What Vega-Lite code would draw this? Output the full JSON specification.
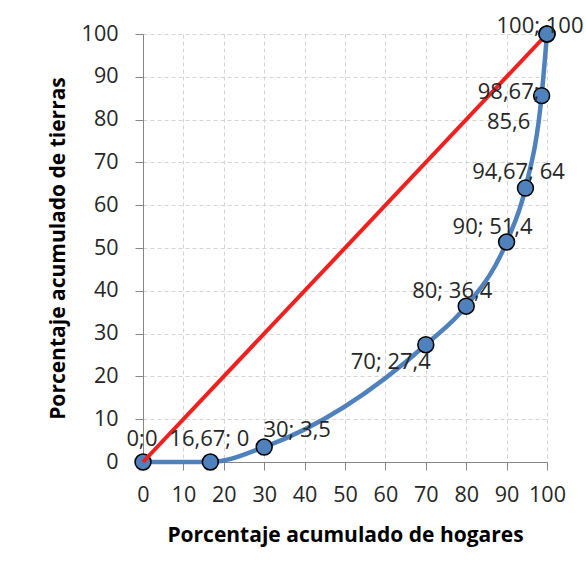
{
  "$schema": "https://vega.github.io/schema/vega-lite/v6.json",
  "width": 404,
  "height": 428,
  "autosize": {"type": "none"},
  "padding": {"left": 143, "top": 34, "right": 39, "bottom": 120},
  "background": "white",
  "config": {
    "view": {"stroke": null},
    "font": "Open Sans",
    "axis": {
      "grid": true,
      "gridColor": "#d4d4d4",
      "gridDash": [4, 3],
      "gridWidth": 1,
      "domainColor": "#868686",
      "domainWidth": 1,
      "tickColor": "#868686",
      "tickSize": 8,
      "labelFontSize": 21.5,
      "labelColor": "#262626",
      "labelFont": "Open Sans",
      "titleFont": "Open Sans",
      "titleFontSize": 21,
      "titleFontWeight": "bold",
      "titleColor": "#000000",
      "labelFlush": false,
      "labelOverlap": false
    }
  },
  "datasets": {
    "lorenz": [
      {"x": 0, "y": 0, "label": "0;0"},
      {"x": 16.67, "y": 0, "label": "16,67; 0"},
      {"x": 30, "y": 3.5, "label": "30; 3,5"},
      {"x": 70, "y": 27.4, "label": "70; 27,4"},
      {"x": 80, "y": 36.4, "label": "80; 36,4"},
      {"x": 90, "y": 51.4, "label": "90; 51,4"},
      {"x": 94.67, "y": 64, "label": "94,67; 64"},
      {"x": 98.67, "y": 85.6, "label": "98,67;\n85,6"},
      {"x": 100, "y": 100, "label": "100; 100"}
    ],
    "equality": [
      {"x": 0, "y": 0},
      {"x": 100, "y": 100}
    ]
  },
  "encoding": {
    "x": {
      "field": "x",
      "type": "quantitative",
      "scale": {"domain": [0, 100], "nice": false, "zero": false},
      "axis": {
        "values": [0, 10, 20, 30, 40, 50, 60, 70, 80, 90, 100],
        "title": "Porcentaje acumulado de hogares",
        "labelPadding": 14,
        "titleX": 202,
        "titleY": 73,
        "titleAlign": "center",
        "titleBaseline": "middle"
      }
    },
    "y": {
      "field": "y",
      "type": "quantitative",
      "scale": {"domain": [0, 100], "nice": false, "zero": false},
      "axis": {
        "values": [0, 10, 20, 30, 40, 50, 60, 70, 80, 90, 100],
        "title": "Porcentaje acumulado de tierras",
        "labelPadding": 17,
        "titleX": -85,
        "titleY": 214,
        "titleAngle": -90,
        "titleAlign": "center",
        "titleBaseline": "middle"
      }
    }
  },
  "layer": [
    {
      "data": {"name": "lorenz"},
      "mark": {"type": "line", "color": "#4f81bd", "strokeWidth": 4.5, "interpolate": "monotone"}
    },
    {
      "data": {"name": "lorenz"},
      "mark": {"type": "point", "filled": true, "fill": "#4f81bd", "stroke": "#000000", "strokeWidth": 1.5, "size": 254, "opacity": 1}
    },
    {
      "data": {"name": "equality"},
      "mark": {"type": "line", "color": "#f0201e", "strokeWidth": 4}
    },
    {
      "data": {"name": "lorenz"},
      "transform": [{"filter": "datum.x == 100"}],
      "mark": {"type": "point", "filled": true, "fill": "#4f81bd", "stroke": "#000000", "strokeWidth": 1.5, "size": 254, "opacity": 1}
    },
    {
      "data": {"name": "lorenz"},
      "transform": [{"filter": "datum.x == 0 || datum.x == 16.67"}],
      "mark": {"type": "text", "fontSize": 22, "color": "#262626", "align": "center", "baseline": "middle", "dx": -1, "dy": -23},
      "encoding": {"text": {"field": "label"}}
    },
    {
      "data": {"name": "lorenz"},
      "transform": [{"filter": "datum.x == 30"}],
      "mark": {"type": "text", "fontSize": 22, "color": "#262626", "align": "center", "baseline": "middle", "dx": 33, "dy": -17},
      "encoding": {"text": {"field": "label"}}
    },
    {
      "data": {"name": "lorenz"},
      "transform": [{"filter": "datum.x == 70"}],
      "mark": {"type": "text", "fontSize": 22, "color": "#262626", "align": "center", "baseline": "middle", "dx": -35, "dy": 17.5},
      "encoding": {"text": {"field": "label"}}
    },
    {
      "data": {"name": "lorenz"},
      "transform": [{"filter": "datum.x == 80 || datum.x == 90"}],
      "mark": {"type": "text", "fontSize": 22, "color": "#262626", "align": "center", "baseline": "middle", "dx": -14, "dy": -15},
      "encoding": {"text": {"field": "label"}}
    },
    {
      "data": {"name": "lorenz"},
      "transform": [{"filter": "datum.x == 94.67"}],
      "mark": {"type": "text", "fontSize": 22, "color": "#262626", "align": "center", "baseline": "middle", "dx": -7, "dy": -16.5},
      "encoding": {"text": {"field": "label"}}
    },
    {
      "data": {"name": "lorenz"},
      "transform": [{"filter": "datum.x == 98.67"}],
      "mark": {"type": "text", "fontSize": 22, "color": "#262626", "align": "center", "baseline": "middle", "lineBreak": "\n", "lineHeight": 30, "dx": -33, "dy": -4},
      "encoding": {"text": {"field": "label"}}
    },
    {
      "data": {"name": "lorenz"},
      "transform": [{"filter": "datum.x == 100"}],
      "mark": {"type": "text", "fontSize": 22, "color": "#262626", "align": "center", "baseline": "middle", "dx": -7, "dy": -8.5},
      "encoding": {"text": {"field": "label"}}
    }
  ]
}
